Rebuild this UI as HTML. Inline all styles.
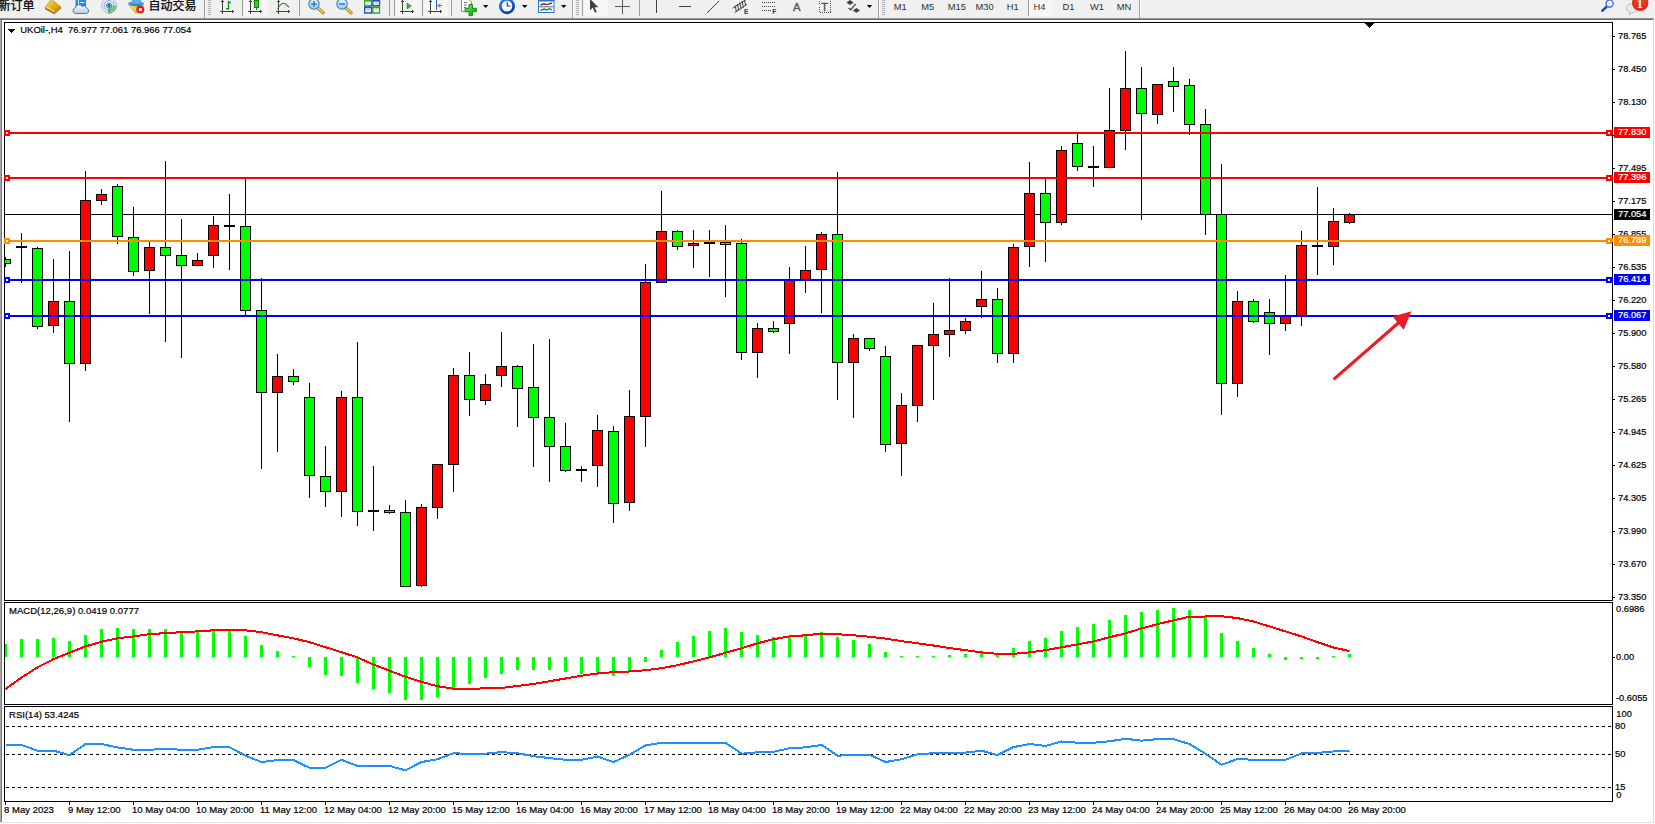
<!DOCTYPE html>
<html><head><meta charset="utf-8"><title>UKOil H4</title>
<style>
html,body{margin:0;padding:0;background:#fff;}
body{width:1655px;height:824px;position:relative;overflow:hidden;font-family:"Liberation Sans","Noto Sans CJK SC",sans-serif;font-size:11px;}
.t{position:absolute;white-space:nowrap;line-height:12px;font-size:9.55px;-webkit-text-stroke:0.2px currentColor;}
#lft{position:absolute;left:0;top:19px;width:2px;height:803px;background:linear-gradient(90deg,#a8a8a8 0,#a8a8a8 50%,#787878 50%,#787878 100%);}
#bot{position:absolute;left:0px;top:822px;width:1654px;height:1px;background:#e0e0e0;}
#rgt{position:absolute;left:1653px;top:19px;width:1px;height:804px;background:#dcdcdc;}
.cj{position:absolute;font-size:12px;line-height:12px;top:0px;color:#000;white-space:nowrap;-webkit-text-stroke:0.25px #000;}
</style></head><body>
<div id="lft"></div><div id="bot"></div><div id="rgt"></div>
<svg width="1655" height="20" viewBox="0 0 1655 20" style="position:absolute;left:0;top:0;overflow:hidden"><defs><linearGradient id="gold" x1="0" y1="0" x2="1" y2="1"><stop offset="0" stop-color="#fbe27a"/><stop offset=".5" stop-color="#e8b020"/><stop offset="1" stop-color="#b87808"/></linearGradient><linearGradient id="cloud" x1="0" y1="0" x2="0" y2="1"><stop offset="0" stop-color="#ffffff"/><stop offset="1" stop-color="#b8c8e8"/></linearGradient><linearGradient id="hat" x1="0" y1="0" x2="0" y2="1"><stop offset="0" stop-color="#58b8e8"/><stop offset="1" stop-color="#2a78c0"/></linearGradient><linearGradient id="face" x1="0" y1="0" x2="1" y2="1"><stop offset="0" stop-color="#ffe870"/><stop offset="1" stop-color="#e8a818"/></linearGradient><radialGradient id="badge" cx=".5" cy=".3" r=".8"><stop offset="0" stop-color="#e85030"/><stop offset="1" stop-color="#d02010"/></radialGradient><linearGradient id="lens" x1="0" y1="0" x2="0" y2="1"><stop offset="0" stop-color="#e8f4ff"/><stop offset="1" stop-color="#9cc8f0"/></linearGradient><pattern id="chk" width="2" height="2" patternUnits="userSpaceOnUse"><rect width="2" height="2" fill="#f0f0f0"/><rect width="1" height="1" fill="#fff"/><rect x="1" y="1" width="1" height="1" fill="#fff"/></pattern><linearGradient id="plus" x1="0" y1="0" x2="1" y2="1"><stop offset="0" stop-color="#70f070"/><stop offset="1" stop-color="#08a008"/></linearGradient><linearGradient id="clk" x1="0" y1="0" x2="0.6" y2="1"><stop offset="0" stop-color="#2a8af0"/><stop offset="1" stop-color="#0a3a9a"/></linearGradient></defs><rect x="0" y="0" width="1655" height="17" fill="#f0f0f0"/><rect x="0" y="17" width="1654" height="1" fill="#eeeeee"/><rect x="0" y="18" width="1654" height="1" fill="#959595"/><rect x="0" y="19" width="1653" height="1" fill="#696969"/><rect x="244" y="0" width="24" height="16" fill="url(#chk)"/><rect x="396" y="0" width="24" height="16" fill="url(#chk)"/><rect x="424" y="0" width="24" height="16" fill="url(#chk)"/><rect x="584" y="0" width="24" height="16" fill="url(#chk)"/><rect x="1029" y="0" width="24" height="16" fill="url(#chk)"/><rect x="204" y="0" width="1" height="18" fill="#a0a0a0"/><rect x="242" y="0" width="1" height="16" fill="#a0a0a0"/><rect x="299" y="0" width="1" height="16" fill="#a0a0a0"/><rect x="389" y="0" width="1" height="16" fill="#a0a0a0"/><rect x="394" y="0" width="1" height="16" fill="#a0a0a0"/><rect x="422" y="0" width="1" height="16" fill="#a0a0a0"/><rect x="451" y="0" width="1" height="16" fill="#a0a0a0"/><rect x="572" y="0" width="1" height="18" fill="#a0a0a0"/><rect x="582" y="0" width="1" height="16" fill="#a0a0a0"/><rect x="639" y="0" width="1" height="16" fill="#a0a0a0"/><rect x="878" y="0" width="1" height="18" fill="#a0a0a0"/><rect x="1028" y="0" width="1" height="16" fill="#a0a0a0"/><rect x="1139" y="0" width="1" height="18" fill="#a0a0a0"/><rect x="573" y="0" width="1" height="16" fill="#ffffff"/><rect x="879" y="0" width="1" height="16" fill="#ffffff"/><rect x="1140" y="0" width="1" height="16" fill="#ffffff"/><rect x="208" y="0" width="3" height="1" fill="#b0b0b0"/><rect x="208" y="2" width="3" height="1" fill="#b0b0b0"/><rect x="208" y="4" width="3" height="1" fill="#b0b0b0"/><rect x="208" y="6" width="3" height="1" fill="#b0b0b0"/><rect x="208" y="8" width="3" height="1" fill="#b0b0b0"/><rect x="208" y="10" width="3" height="1" fill="#b0b0b0"/><rect x="208" y="12" width="3" height="1" fill="#b0b0b0"/><rect x="208" y="14" width="3" height="1" fill="#b0b0b0"/><rect x="576" y="0" width="3" height="1" fill="#b0b0b0"/><rect x="576" y="2" width="3" height="1" fill="#b0b0b0"/><rect x="576" y="4" width="3" height="1" fill="#b0b0b0"/><rect x="576" y="6" width="3" height="1" fill="#b0b0b0"/><rect x="576" y="8" width="3" height="1" fill="#b0b0b0"/><rect x="576" y="10" width="3" height="1" fill="#b0b0b0"/><rect x="576" y="12" width="3" height="1" fill="#b0b0b0"/><rect x="576" y="14" width="3" height="1" fill="#b0b0b0"/><rect x="882" y="0" width="3" height="1" fill="#b0b0b0"/><rect x="882" y="2" width="3" height="1" fill="#b0b0b0"/><rect x="882" y="4" width="3" height="1" fill="#b0b0b0"/><rect x="882" y="6" width="3" height="1" fill="#b0b0b0"/><rect x="882" y="8" width="3" height="1" fill="#b0b0b0"/><rect x="882" y="10" width="3" height="1" fill="#b0b0b0"/><rect x="882" y="12" width="3" height="1" fill="#b0b0b0"/><rect x="882" y="14" width="3" height="1" fill="#b0b0b0"/><polygon points="45,7.6 54.4,12.6 61,7 61,8.4 54.2,14.2 45,9.2" fill="#a87008"/><polygon points="51.3,-0.8 61,7 54.4,12.6 45,7.6" fill="url(#gold)" stroke="#b88010" stroke-width="0.6"/><line x1="46.8" y1="7.2" x2="54.6" y2="11.4" stroke="#fbe890" stroke-width="1"/><rect x="75.5" y="-1" width="10.5" height="8" fill="#1e8ce8"/><rect x="78" y="0" width="1" height="6" fill="#d8ecff"/><rect x="80" y="2" width="4.5" height="1" fill="#d8ecff"/><path d="M75,13.5 a3,3 0 0 1 0.5,-5.8 a3.6,3.6 0 0 1 6.6,-1.2 a3,3 0 0 1 4.6,1.6 a2.8,2.8 0 0 1 -0.2,5.4 z" fill="url(#cloud)" stroke="#4a6ea8" stroke-width="0.9"/><circle cx="109" cy="5.6" r="2.6" fill="none" stroke="#3a6ad8" stroke-opacity="0.9" stroke-width="1"/><circle cx="109" cy="5.6" r="5" fill="none" stroke="#3a6ad8" stroke-opacity="0.6" stroke-width="1"/><circle cx="109" cy="5.6" r="7.4" fill="none" stroke="#3a6ad8" stroke-opacity="0.4" stroke-width="1"/><path d="M109,5.6 L117,5.6 A8,8 0 0 1 109,13.6 z" fill="#48a848" fill-opacity=".55"/><circle cx="109" cy="5.4" r="1.6" fill="#2858d0"/><rect x="108.5" y="6" width="1.2" height="7.6" fill="#18b018"/><polygon points="128.3,4.5 143.8,4.5 136,13.6" fill="url(#face)" stroke="#c89010" stroke-width=".6"/><ellipse cx="136" cy="3.6" rx="7.8" ry="2.6" fill="url(#hat)"/><ellipse cx="136.5" cy="0.5" rx="4.6" ry="3" fill="#58b0e0"/><circle cx="140.3" cy="9.6" r="4" fill="#e02010"/><rect x="138.8" y="8.1" width="3" height="3" fill="#fff"/><rect x="222" y="0" width="1" height="14" fill="#404040"/><rect x="220" y="11" width="14" height="1" fill="#404040"/><rect x="221" y="1" width="3" height="1" fill="#404040"/><rect x="232" y="10" width="1" height="3" fill="#404040"/><path d="M226,8.6 h2.5 M228.5,9.8 v-8.8 M228.5,2.5 h2.4" fill="none" stroke="#108a10" stroke-width="1.3"/><rect x="250" y="0" width="1" height="14" fill="#404040"/><rect x="248" y="11" width="14" height="1" fill="#404040"/><rect x="249" y="1" width="3" height="1" fill="#404040"/><rect x="260" y="10" width="1" height="3" fill="#404040"/><rect x="254.5" y="0.5" width="4" height="7" fill="#30d030" stroke="#108010" stroke-width="1"/><rect x="256" y="8" width="1" height="2" fill="#108010"/><rect x="278" y="0" width="1" height="14" fill="#404040"/><rect x="276" y="11" width="14" height="1" fill="#404040"/><rect x="277" y="1" width="3" height="1" fill="#404040"/><rect x="288" y="10" width="1" height="3" fill="#404040"/><path d="M277.5,8.7 Q281,3.2 283.5,3.3 Q286,3.6 289,7.4" fill="none" stroke="#189018" stroke-width="1.1"/><line x1="317.8" y1="8" x2="323.2" y2="12.8" stroke="#b08810" stroke-width="3.2" stroke-linecap="round"/><line x1="318.2" y1="8.3" x2="323" y2="12.6" stroke="#f0d860" stroke-width="1.4" stroke-linecap="round"/><circle cx="314" cy="4" r="5.2" fill="url(#lens)" stroke="#3a80c8" stroke-width="1.1"/><rect x="311" y="3.3" width="6" height="1.5" fill="#3a78b8"/><rect x="313.25" y="1" width="1.5" height="6" fill="#3a78b8"/><line x1="345.8" y1="8" x2="351.2" y2="12.8" stroke="#b08810" stroke-width="3.2" stroke-linecap="round"/><line x1="346.2" y1="8.3" x2="351" y2="12.6" stroke="#f0d860" stroke-width="1.4" stroke-linecap="round"/><circle cx="342" cy="4" r="5.2" fill="url(#lens)" stroke="#3a80c8" stroke-width="1.1"/><rect x="339" y="3.3" width="6" height="1.5" fill="#3a78b8"/><rect x="364" y="-0.5" width="8.2" height="6.8" fill="#3aa028"/><rect x="365.2" y="1.5" width="5.799999999999999" height="3.4" rx=".8" fill="#f4f8ff"/><rect x="366.2" y="2.5" width="3.799999999999999" height="1" fill="#a8e090"/><rect x="372.2" y="-0.5" width="8" height="6.8" fill="#2450c0"/><rect x="373.4" y="1.5" width="5.6" height="3.4" rx=".8" fill="#f4f8ff"/><rect x="374.4" y="2.5" width="3.5999999999999996" height="1" fill="#98b0f0"/><rect x="364" y="6.3" width="8.2" height="7.4" fill="#2450c0"/><rect x="365.2" y="8.3" width="5.799999999999999" height="4.0" rx=".8" fill="#f4f8ff"/><rect x="366.2" y="9.3" width="3.799999999999999" height="1" fill="#98b0f0"/><rect x="372.2" y="6.3" width="8" height="7.4" fill="#3aa028"/><rect x="373.4" y="8.3" width="5.6" height="4.0" rx=".8" fill="#f4f8ff"/><rect x="374.4" y="9.3" width="3.5999999999999996" height="1" fill="#a8e090"/><rect x="402" y="0" width="1" height="14" fill="#404040"/><rect x="400" y="11" width="14" height="1" fill="#404040"/><rect x="401" y="1" width="3" height="1" fill="#404040"/><rect x="412" y="10" width="1" height="3" fill="#404040"/><polygon points="407,3 411.3,6 407,9" fill="#28c028" stroke="#108010" stroke-width=".6"/><rect x="430" y="0" width="1" height="14" fill="#404040"/><rect x="428" y="11" width="14" height="1" fill="#404040"/><rect x="429" y="1" width="3" height="1" fill="#404040"/><rect x="440" y="10" width="1" height="3" fill="#404040"/><rect x="436" y="0" width="1" height="10" fill="#2060c0"/><path d="M442,5.6 h-4 m2,-2 l-2,2 l2,2" stroke="#d04010" stroke-width="1" fill="none"/><path d="M461.5,-1 h7 l3,3 v9.5 h-10 z" fill="#fafafa" stroke="#909090" stroke-width="1"/><path d="M464,2.5 h3 M464,5 h2.5 M464,7.5 h2" stroke="#606050" stroke-width=".9" fill="none"/><path d="M469,4.4 h3.4 v3.9 h3.9 v3.4 h-3.9 v3.9 h-3.4 v-3.9 h-3.9 v-3.4 h3.9 z" fill="url(#plus)" stroke="#0a800a" stroke-width=".9"/><polygon points="483,5 488.4,5 485.7,8" fill="#000"/><circle cx="507" cy="6.1" r="6.7" fill="#fbfcff" stroke="url(#clk)" stroke-width="2.7"/><path d="M507.3,2.2 v3.6 l2.8,0.4" fill="none" stroke="#303030" stroke-width="1.1"/><path d="M507,1.4 v.8 M507,10 v.8 M502.4,6.1 h.8 M510.8,6.1 h.8" stroke="#9098a8" stroke-width=".8"/><polygon points="522,5 527.4,5 524.7,8" fill="#000"/><rect x="538.5" y="-1" width="15.5" height="13.5" fill="#fff" stroke="#3070c8" stroke-width="1"/><rect x="538.5" y="-1" width="15.5" height="2.5" fill="#3070c8"/><rect x="539" y="6.3" width="14.5" height="1" fill="#3070c8"/><polyline points="540.5,5 544,3.8 547,4.6 552,3" fill="none" stroke="#982008" stroke-width="1.4"/><polyline points="540.5,10.5 544,9 547,10 549.5,8.6 552,10" fill="none" stroke="#189018" stroke-width="1.4"/><polygon points="561,5 566.4,5 563.7,8" fill="#000"/><path d="M590,-1 L590,10.2 L592.8,7.8 L595,12.8 L596.8,12 L594.6,7.2 L598.3,7.2 Z" fill="#404040"/><rect x="622" y="-1" width="1" height="15" fill="#585858"/><rect x="615" y="6" width="15" height="1" fill="#585858"/><rect x="656" y="0" width="1" height="13" fill="#404040"/><rect x="679" y="6" width="12" height="1" fill="#404040"/><line x1="707" y1="13" x2="719" y2="1" stroke="#404040" stroke-width="1"/><g stroke="#404040" stroke-width="1" fill="none"><line x1="732.7" y1="8.2" x2="745.8" y2="-0.2"/><line x1="734.7" y1="12.6" x2="746.8" y2="4.4"/><line x1="735" y1="5.5" x2="736.6" y2="12"/><line x1="737.3" y1="4" x2="738.9" y2="10.5"/><line x1="739.6" y1="2.5" x2="741.2" y2="9"/><line x1="741.9" y1="1" x2="743.5" y2="7.5"/><line x1="744.2" y1="-0.5" x2="745.8" y2="6"/></g><text x="744" y="14" font-family="Liberation Sans,sans-serif" font-size="6.5" font-weight="bold" fill="#303030">E</text><line x1="762" y1="2.5" x2="775" y2="2.5" stroke="#404040" stroke-width="1" stroke-dasharray="1,1"/><line x1="762" y1="6.5" x2="775" y2="6.5" stroke="#404040" stroke-width="1" stroke-dasharray="1,1"/><line x1="762" y1="10.5" x2="771" y2="10.5" stroke="#404040" stroke-width="1" stroke-dasharray="1,1"/><text x="772.3" y="14.3" font-family="Liberation Sans,sans-serif" font-size="6.5" font-weight="bold" fill="#303030">F</text><text x="793" y="10.6" font-family="Liberation Sans,sans-serif" font-size="11.4" fill="#585858" stroke="#585858" stroke-width=".35">A</text><rect x="819.5" y="-0.5" width="11" height="13" fill="none" stroke="#505050" stroke-width="1" stroke-dasharray="1,1" shape-rendering="crispEdges"/><text x="821.2" y="10.6" font-family="Liberation Sans,sans-serif" font-size="11" fill="#505050" stroke="#505050" stroke-width=".4">T</text><polygon points="850,0 853.6,2.6 850,5 846.4,2.6" fill="#404040"/><polygon points="856.4,8 860,10.4 856.4,12.8 852.8,10.4" fill="#404040"/><polyline points="848.6,8 850.7,9.8 855.6,3.8" fill="none" stroke="#404040" stroke-width="1.3"/><polygon points="866.8,5 872.1999999999999,5 869.5,8" fill="#000"/><line x1="1606.3" y1="7" x2="1602.2" y2="10.8" stroke="#1848c8" stroke-width="2.4" stroke-linecap="round"/><circle cx="1609.6" cy="3.6" r="3.6" fill="#f4f4ff" stroke="#2858e0" stroke-width="1.2"/><path d="M1626.5,8.2 a5.2,4.4 0 1 1 5.6,4.4 l-2.6,2.2 l0.2,-2.4 a5.2,4.4 0 0 1 -3.2,-4.2 z" fill="#e8e8f0" stroke="#b0b0b0" stroke-width=".8"/><circle cx="1640.2" cy="2.9" r="8.2" fill="url(#badge)"/><text x="1639.8" y="8" text-anchor="middle" font-family="Liberation Serif,serif" font-size="12" font-weight="bold" fill="#fff">1</text><text x="893.7" y="10" font-family="Liberation Sans,sans-serif" font-size="9.4" fill="#303030">M1</text><text x="921.3" y="10" font-family="Liberation Sans,sans-serif" font-size="9.4" fill="#303030">M5</text><text x="947.7" y="10" font-family="Liberation Sans,sans-serif" font-size="9.4" fill="#303030">M15</text><text x="975.5" y="10" font-family="Liberation Sans,sans-serif" font-size="9.4" fill="#303030">M30</text><text x="1006.7" y="10" font-family="Liberation Sans,sans-serif" font-size="9.4" fill="#303030">H1</text><text x="1033.6" y="10" font-family="Liberation Sans,sans-serif" font-size="9.4" fill="#303030">H4</text><text x="1062.5" y="10" font-family="Liberation Sans,sans-serif" font-size="9.4" fill="#303030">D1</text><text x="1090" y="10" font-family="Liberation Sans,sans-serif" font-size="9.4" fill="#303030">W1</text><text x="1116.7" y="10" font-family="Liberation Sans,sans-serif" font-size="9.4" fill="#303030">MN</text></svg><div class="cj" style="left:-1.5px">新订单</div><div class="cj" style="left:148.5px">自动交易</div>
<svg width="1655" height="824" viewBox="0 0 1655 824" style="position:absolute;left:0;top:0" shape-rendering="crispEdges"><defs><clipPath id="cp"><rect x="5" y="23" width="1607" height="577"/></clipPath></defs><rect x="4" y="22" width="1609" height="1" fill="#000"/><rect x="4" y="22" width="1" height="579" fill="#000"/><rect x="4" y="600" width="1609" height="1" fill="#000"/><rect x="1612" y="22" width="1" height="579" fill="#000"/><rect x="4" y="602" width="1609" height="1" fill="#000"/><rect x="4" y="602" width="1" height="103" fill="#000"/><rect x="4" y="704" width="1609" height="1" fill="#000"/><rect x="1612" y="602" width="1" height="103" fill="#000"/><rect x="4" y="706" width="1609" height="1" fill="#000"/><rect x="4" y="706" width="1" height="96" fill="#000"/><rect x="4" y="801" width="1609" height="1" fill="#000"/><rect x="1612" y="706" width="1" height="96" fill="#000"/><rect x="5" y="214" width="1607" height="1" fill="#000"/><g clip-path="url(#cp)"><rect x="5" y="257" width="1" height="10" fill="#000"/><rect x="0" y="259" width="11" height="5" fill="#000"/><rect x="1" y="260" width="9" height="3" fill="#00ff00"/><rect x="21" y="233" width="1" height="50" fill="#000"/><rect x="16" y="246" width="11" height="2" fill="#000"/><rect x="37" y="247" width="1" height="82" fill="#000"/><rect x="32" y="248" width="11" height="79" fill="#000"/><rect x="33" y="249" width="9" height="77" fill="#00ff00"/><rect x="53" y="259" width="1" height="74" fill="#000"/><rect x="48" y="301" width="11" height="25" fill="#000"/><rect x="49" y="302" width="9" height="23" fill="#ff0000"/><rect x="69" y="251" width="1" height="171" fill="#000"/><rect x="64" y="301" width="11" height="63" fill="#000"/><rect x="65" y="302" width="9" height="61" fill="#00ff00"/><rect x="85" y="171" width="1" height="200" fill="#000"/><rect x="80" y="200" width="11" height="164" fill="#000"/><rect x="81" y="201" width="9" height="162" fill="#ff0000"/><rect x="101" y="189" width="1" height="16" fill="#000"/><rect x="96" y="194" width="11" height="7" fill="#000"/><rect x="97" y="195" width="9" height="5" fill="#ff0000"/><rect x="117" y="184" width="1" height="60" fill="#000"/><rect x="112" y="186" width="11" height="51" fill="#000"/><rect x="113" y="187" width="9" height="49" fill="#00ff00"/><rect x="133" y="207" width="1" height="69" fill="#000"/><rect x="128" y="237" width="11" height="35" fill="#000"/><rect x="129" y="238" width="9" height="33" fill="#00ff00"/><rect x="149" y="242" width="1" height="72" fill="#000"/><rect x="144" y="247" width="11" height="24" fill="#000"/><rect x="145" y="248" width="9" height="22" fill="#ff0000"/><rect x="165" y="161" width="1" height="181" fill="#000"/><rect x="160" y="247" width="11" height="9" fill="#000"/><rect x="161" y="248" width="9" height="7" fill="#00ff00"/><rect x="181" y="219" width="1" height="139" fill="#000"/><rect x="176" y="255" width="11" height="11" fill="#000"/><rect x="177" y="256" width="9" height="9" fill="#00ff00"/><rect x="197" y="253" width="1" height="13" fill="#000"/><rect x="192" y="260" width="11" height="6" fill="#000"/><rect x="193" y="261" width="9" height="4" fill="#ff0000"/><rect x="213" y="216" width="1" height="52" fill="#000"/><rect x="208" y="225" width="11" height="31" fill="#000"/><rect x="209" y="226" width="9" height="29" fill="#ff0000"/><rect x="229" y="194" width="1" height="76" fill="#000"/><rect x="224" y="225" width="11" height="2" fill="#000"/><rect x="245" y="178" width="1" height="137" fill="#000"/><rect x="240" y="226" width="11" height="85" fill="#000"/><rect x="241" y="227" width="9" height="83" fill="#00ff00"/><rect x="261" y="278" width="1" height="191" fill="#000"/><rect x="256" y="310" width="11" height="83" fill="#000"/><rect x="257" y="311" width="9" height="81" fill="#00ff00"/><rect x="277" y="354" width="1" height="98" fill="#000"/><rect x="272" y="376" width="11" height="17" fill="#000"/><rect x="273" y="377" width="9" height="15" fill="#ff0000"/><rect x="293" y="369" width="1" height="16" fill="#000"/><rect x="288" y="376" width="11" height="6" fill="#000"/><rect x="289" y="377" width="9" height="4" fill="#00ff00"/><rect x="309" y="383" width="1" height="115" fill="#000"/><rect x="304" y="397" width="11" height="79" fill="#000"/><rect x="305" y="398" width="9" height="77" fill="#00ff00"/><rect x="325" y="446" width="1" height="61" fill="#000"/><rect x="320" y="476" width="11" height="16" fill="#000"/><rect x="321" y="477" width="9" height="14" fill="#00ff00"/><rect x="341" y="391" width="1" height="126" fill="#000"/><rect x="336" y="397" width="11" height="95" fill="#000"/><rect x="337" y="398" width="9" height="93" fill="#ff0000"/><rect x="357" y="342" width="1" height="184" fill="#000"/><rect x="352" y="397" width="11" height="115" fill="#000"/><rect x="353" y="398" width="9" height="113" fill="#00ff00"/><rect x="373" y="466" width="1" height="65" fill="#000"/><rect x="368" y="510" width="11" height="2" fill="#000"/><rect x="389" y="505" width="1" height="9" fill="#000"/><rect x="384" y="510" width="11" height="3" fill="#000"/><rect x="385" y="511" width="9" height="1" fill="#00ff00"/><rect x="405" y="500" width="1" height="87" fill="#000"/><rect x="400" y="512" width="11" height="75" fill="#000"/><rect x="401" y="513" width="9" height="73" fill="#00ff00"/><rect x="421" y="504" width="1" height="83" fill="#000"/><rect x="416" y="507" width="11" height="79" fill="#000"/><rect x="417" y="508" width="9" height="77" fill="#ff0000"/><rect x="437" y="464" width="1" height="55" fill="#000"/><rect x="432" y="464" width="11" height="44" fill="#000"/><rect x="433" y="465" width="9" height="42" fill="#ff0000"/><rect x="453" y="368" width="1" height="124" fill="#000"/><rect x="448" y="375" width="11" height="90" fill="#000"/><rect x="449" y="376" width="9" height="88" fill="#ff0000"/><rect x="469" y="352" width="1" height="64" fill="#000"/><rect x="464" y="375" width="11" height="25" fill="#000"/><rect x="465" y="376" width="9" height="23" fill="#00ff00"/><rect x="485" y="374" width="1" height="31" fill="#000"/><rect x="480" y="384" width="11" height="17" fill="#000"/><rect x="481" y="385" width="9" height="15" fill="#ff0000"/><rect x="501" y="332" width="1" height="55" fill="#000"/><rect x="496" y="366" width="11" height="10" fill="#000"/><rect x="497" y="367" width="9" height="8" fill="#ff0000"/><rect x="517" y="365" width="1" height="62" fill="#000"/><rect x="512" y="366" width="11" height="23" fill="#000"/><rect x="513" y="367" width="9" height="21" fill="#00ff00"/><rect x="533" y="344" width="1" height="123" fill="#000"/><rect x="528" y="387" width="11" height="31" fill="#000"/><rect x="529" y="388" width="9" height="29" fill="#00ff00"/><rect x="549" y="339" width="1" height="143" fill="#000"/><rect x="544" y="417" width="11" height="30" fill="#000"/><rect x="545" y="418" width="9" height="28" fill="#00ff00"/><rect x="565" y="423" width="1" height="49" fill="#000"/><rect x="560" y="446" width="11" height="25" fill="#000"/><rect x="561" y="447" width="9" height="23" fill="#00ff00"/><rect x="581" y="466" width="1" height="16" fill="#000"/><rect x="576" y="469" width="11" height="2" fill="#000"/><rect x="597" y="415" width="1" height="72" fill="#000"/><rect x="592" y="430" width="11" height="36" fill="#000"/><rect x="593" y="431" width="9" height="34" fill="#ff0000"/><rect x="613" y="426" width="1" height="97" fill="#000"/><rect x="608" y="431" width="11" height="73" fill="#000"/><rect x="609" y="432" width="9" height="71" fill="#00ff00"/><rect x="629" y="390" width="1" height="121" fill="#000"/><rect x="624" y="416" width="11" height="87" fill="#000"/><rect x="625" y="417" width="9" height="85" fill="#ff0000"/><rect x="645" y="264" width="1" height="183" fill="#000"/><rect x="640" y="282" width="11" height="135" fill="#000"/><rect x="641" y="283" width="9" height="133" fill="#ff0000"/><rect x="661" y="191" width="1" height="92" fill="#000"/><rect x="656" y="231" width="11" height="52" fill="#000"/><rect x="657" y="232" width="9" height="50" fill="#ff0000"/><rect x="677" y="230" width="1" height="20" fill="#000"/><rect x="672" y="231" width="11" height="16" fill="#000"/><rect x="673" y="232" width="9" height="14" fill="#00ff00"/><rect x="693" y="230" width="1" height="38" fill="#000"/><rect x="688" y="243" width="11" height="3" fill="#000"/><rect x="689" y="244" width="9" height="1" fill="#ff0000"/><rect x="709" y="230" width="1" height="47" fill="#000"/><rect x="704" y="242" width="11" height="2" fill="#000"/><rect x="725" y="225" width="1" height="72" fill="#000"/><rect x="720" y="242" width="11" height="3" fill="#000"/><rect x="721" y="243" width="9" height="1" fill="#00ff00"/><rect x="741" y="239" width="1" height="121" fill="#000"/><rect x="736" y="243" width="11" height="110" fill="#000"/><rect x="737" y="244" width="9" height="108" fill="#00ff00"/><rect x="757" y="323" width="1" height="55" fill="#000"/><rect x="752" y="328" width="11" height="25" fill="#000"/><rect x="753" y="329" width="9" height="23" fill="#ff0000"/><rect x="773" y="321" width="1" height="12" fill="#000"/><rect x="768" y="328" width="11" height="4" fill="#000"/><rect x="769" y="329" width="9" height="2" fill="#00ff00"/><rect x="789" y="267" width="1" height="87" fill="#000"/><rect x="784" y="280" width="11" height="44" fill="#000"/><rect x="785" y="281" width="9" height="42" fill="#ff0000"/><rect x="805" y="246" width="1" height="47" fill="#000"/><rect x="800" y="270" width="11" height="11" fill="#000"/><rect x="801" y="271" width="9" height="9" fill="#ff0000"/><rect x="821" y="232" width="1" height="81" fill="#000"/><rect x="816" y="234" width="11" height="36" fill="#000"/><rect x="817" y="235" width="9" height="34" fill="#ff0000"/><rect x="837" y="172" width="1" height="228" fill="#000"/><rect x="832" y="234" width="11" height="129" fill="#000"/><rect x="833" y="235" width="9" height="127" fill="#00ff00"/><rect x="853" y="334" width="1" height="84" fill="#000"/><rect x="848" y="338" width="11" height="25" fill="#000"/><rect x="849" y="339" width="9" height="23" fill="#ff0000"/><rect x="869" y="338" width="1" height="13" fill="#000"/><rect x="864" y="338" width="11" height="11" fill="#000"/><rect x="865" y="339" width="9" height="9" fill="#00ff00"/><rect x="885" y="346" width="1" height="106" fill="#000"/><rect x="880" y="356" width="11" height="89" fill="#000"/><rect x="881" y="357" width="9" height="87" fill="#00ff00"/><rect x="901" y="393" width="1" height="83" fill="#000"/><rect x="896" y="405" width="11" height="39" fill="#000"/><rect x="897" y="406" width="9" height="37" fill="#ff0000"/><rect x="917" y="345" width="1" height="77" fill="#000"/><rect x="912" y="345" width="11" height="61" fill="#000"/><rect x="913" y="346" width="9" height="59" fill="#ff0000"/><rect x="933" y="303" width="1" height="97" fill="#000"/><rect x="928" y="334" width="11" height="12" fill="#000"/><rect x="929" y="335" width="9" height="10" fill="#ff0000"/><rect x="949" y="278" width="1" height="79" fill="#000"/><rect x="944" y="330" width="11" height="5" fill="#000"/><rect x="945" y="331" width="9" height="3" fill="#ff0000"/><rect x="965" y="318" width="1" height="16" fill="#000"/><rect x="960" y="321" width="11" height="10" fill="#000"/><rect x="961" y="322" width="9" height="8" fill="#ff0000"/><rect x="981" y="271" width="1" height="47" fill="#000"/><rect x="976" y="299" width="11" height="8" fill="#000"/><rect x="977" y="300" width="9" height="6" fill="#ff0000"/><rect x="997" y="288" width="1" height="75" fill="#000"/><rect x="992" y="299" width="11" height="55" fill="#000"/><rect x="993" y="300" width="9" height="53" fill="#00ff00"/><rect x="1013" y="244" width="1" height="119" fill="#000"/><rect x="1008" y="247" width="11" height="107" fill="#000"/><rect x="1009" y="248" width="9" height="105" fill="#ff0000"/><rect x="1029" y="162" width="1" height="105" fill="#000"/><rect x="1024" y="193" width="11" height="54" fill="#000"/><rect x="1025" y="194" width="9" height="52" fill="#ff0000"/><rect x="1045" y="179" width="1" height="83" fill="#000"/><rect x="1040" y="193" width="11" height="30" fill="#000"/><rect x="1041" y="194" width="9" height="28" fill="#00ff00"/><rect x="1061" y="146" width="1" height="79" fill="#000"/><rect x="1056" y="150" width="11" height="73" fill="#000"/><rect x="1057" y="151" width="9" height="71" fill="#ff0000"/><rect x="1077" y="134" width="1" height="37" fill="#000"/><rect x="1072" y="143" width="11" height="24" fill="#000"/><rect x="1073" y="144" width="9" height="22" fill="#00ff00"/><rect x="1093" y="146" width="1" height="41" fill="#000"/><rect x="1088" y="166" width="11" height="2" fill="#000"/><rect x="1109" y="88" width="1" height="80" fill="#000"/><rect x="1104" y="130" width="11" height="38" fill="#000"/><rect x="1105" y="131" width="9" height="36" fill="#ff0000"/><rect x="1125" y="51" width="1" height="99" fill="#000"/><rect x="1120" y="88" width="11" height="43" fill="#000"/><rect x="1121" y="89" width="9" height="41" fill="#ff0000"/><rect x="1141" y="67" width="1" height="153" fill="#000"/><rect x="1136" y="88" width="11" height="26" fill="#000"/><rect x="1137" y="89" width="9" height="24" fill="#00ff00"/><rect x="1157" y="84" width="1" height="40" fill="#000"/><rect x="1152" y="84" width="11" height="31" fill="#000"/><rect x="1153" y="85" width="9" height="29" fill="#ff0000"/><rect x="1173" y="67" width="1" height="45" fill="#000"/><rect x="1168" y="81" width="11" height="6" fill="#000"/><rect x="1169" y="82" width="9" height="4" fill="#00ff00"/><rect x="1189" y="79" width="1" height="56" fill="#000"/><rect x="1184" y="85" width="11" height="40" fill="#000"/><rect x="1185" y="86" width="9" height="38" fill="#00ff00"/><rect x="1205" y="109" width="1" height="126" fill="#000"/><rect x="1200" y="124" width="11" height="91" fill="#000"/><rect x="1201" y="125" width="9" height="89" fill="#00ff00"/><rect x="1221" y="164" width="1" height="251" fill="#000"/><rect x="1216" y="214" width="11" height="170" fill="#000"/><rect x="1217" y="215" width="9" height="168" fill="#00ff00"/><rect x="1237" y="291" width="1" height="106" fill="#000"/><rect x="1232" y="301" width="11" height="83" fill="#000"/><rect x="1233" y="302" width="9" height="81" fill="#ff0000"/><rect x="1253" y="299" width="1" height="24" fill="#000"/><rect x="1248" y="301" width="11" height="21" fill="#000"/><rect x="1249" y="302" width="9" height="19" fill="#00ff00"/><rect x="1269" y="299" width="1" height="56" fill="#000"/><rect x="1264" y="312" width="11" height="12" fill="#000"/><rect x="1265" y="313" width="9" height="10" fill="#00ff00"/><rect x="1285" y="275" width="1" height="56" fill="#000"/><rect x="1280" y="316" width="11" height="8" fill="#000"/><rect x="1281" y="317" width="9" height="6" fill="#ff0000"/><rect x="1301" y="231" width="1" height="95" fill="#000"/><rect x="1296" y="245" width="11" height="72" fill="#000"/><rect x="1297" y="246" width="9" height="70" fill="#ff0000"/><rect x="1317" y="187" width="1" height="88" fill="#000"/><rect x="1312" y="245" width="11" height="2" fill="#000"/><rect x="1333" y="208" width="1" height="57" fill="#000"/><rect x="1328" y="221" width="11" height="26" fill="#000"/><rect x="1329" y="222" width="9" height="24" fill="#ff0000"/><rect x="1349" y="213" width="1" height="11" fill="#000"/><rect x="1344" y="214" width="11" height="9" fill="#000"/><rect x="1345" y="215" width="9" height="7" fill="#ff0000"/></g><rect x="5" y="132" width="1608" height="2" fill="#ff0000"/><rect x="4" y="130" width="6" height="6" fill="#ff0000"/><rect x="6" y="132" width="2" height="2" fill="#fff"/><rect x="1606" y="130" width="6" height="6" fill="#ff0000"/><rect x="1608" y="132" width="2" height="2" fill="#fff"/><rect x="1612" y="130" width="1" height="4" fill="#ff0000"/><rect x="5" y="177" width="1608" height="2" fill="#ff0000"/><rect x="4" y="175" width="6" height="6" fill="#ff0000"/><rect x="6" y="177" width="2" height="2" fill="#fff"/><rect x="1606" y="175" width="6" height="6" fill="#ff0000"/><rect x="1608" y="177" width="2" height="2" fill="#fff"/><rect x="1612" y="175" width="1" height="4" fill="#ff0000"/><rect x="5" y="240" width="1608" height="2" fill="#ff8c00"/><rect x="4" y="238" width="6" height="6" fill="#ff8c00"/><rect x="6" y="240" width="2" height="2" fill="#fff"/><rect x="1606" y="238" width="6" height="6" fill="#ff8c00"/><rect x="1608" y="240" width="2" height="2" fill="#fff"/><rect x="1612" y="238" width="1" height="4" fill="#ff8c00"/><rect x="5" y="279" width="1608" height="2" fill="#0000ff"/><rect x="4" y="277" width="6" height="6" fill="#0000ff"/><rect x="6" y="279" width="2" height="2" fill="#fff"/><rect x="1606" y="277" width="6" height="6" fill="#0000ff"/><rect x="1608" y="279" width="2" height="2" fill="#fff"/><rect x="1612" y="277" width="1" height="4" fill="#0000ff"/><rect x="5" y="315" width="1608" height="2" fill="#0000ff"/><rect x="4" y="313" width="6" height="6" fill="#0000ff"/><rect x="6" y="315" width="2" height="2" fill="#fff"/><rect x="1606" y="313" width="6" height="6" fill="#0000ff"/><rect x="1608" y="315" width="2" height="2" fill="#fff"/><rect x="1612" y="313" width="1" height="4" fill="#0000ff"/><rect x="1613" y="36" width="2" height="1" fill="#000"/><rect x="1613" y="69" width="2" height="1" fill="#000"/><rect x="1613" y="102" width="2" height="1" fill="#000"/><rect x="1613" y="135" width="2" height="1" fill="#000"/><rect x="1613" y="168" width="2" height="1" fill="#000"/><rect x="1613" y="201" width="2" height="1" fill="#000"/><rect x="1613" y="234" width="2" height="1" fill="#000"/><rect x="1613" y="267" width="2" height="1" fill="#000"/><rect x="1613" y="300" width="2" height="1" fill="#000"/><rect x="1613" y="333" width="2" height="1" fill="#000"/><rect x="1613" y="366" width="2" height="1" fill="#000"/><rect x="1613" y="399" width="2" height="1" fill="#000"/><rect x="1613" y="432" width="2" height="1" fill="#000"/><rect x="1613" y="465" width="2" height="1" fill="#000"/><rect x="1613" y="498" width="2" height="1" fill="#000"/><rect x="1613" y="531" width="2" height="1" fill="#000"/><rect x="1613" y="564" width="2" height="1" fill="#000"/><rect x="1613" y="597" width="2" height="1" fill="#000"/><rect x="1613" y="657" width="2" height="1" fill="#000"/><rect x="5" y="644" width="2" height="13" fill="#00ff00"/><rect x="20" y="639" width="3" height="18" fill="#00ff00"/><rect x="36" y="639" width="3" height="18" fill="#00ff00"/><rect x="52" y="638" width="3" height="19" fill="#00ff00"/><rect x="68" y="641" width="3" height="16" fill="#00ff00"/><rect x="84" y="635" width="3" height="22" fill="#00ff00"/><rect x="100" y="629" width="3" height="28" fill="#00ff00"/><rect x="116" y="628" width="3" height="29" fill="#00ff00"/><rect x="132" y="629" width="3" height="28" fill="#00ff00"/><rect x="148" y="629" width="3" height="28" fill="#00ff00"/><rect x="164" y="629" width="3" height="28" fill="#00ff00"/><rect x="180" y="631" width="3" height="26" fill="#00ff00"/><rect x="196" y="631" width="3" height="26" fill="#00ff00"/><rect x="212" y="630" width="3" height="27" fill="#00ff00"/><rect x="228" y="630" width="3" height="27" fill="#00ff00"/><rect x="244" y="636" width="3" height="21" fill="#00ff00"/><rect x="260" y="645" width="3" height="12" fill="#00ff00"/><rect x="276" y="651" width="3" height="6" fill="#00ff00"/><rect x="292" y="656" width="3" height="1" fill="#00ff00"/><rect x="308" y="657" width="3" height="10" fill="#00ff00"/><rect x="324" y="657" width="3" height="18" fill="#00ff00"/><rect x="340" y="657" width="3" height="19" fill="#00ff00"/><rect x="356" y="657" width="3" height="26" fill="#00ff00"/><rect x="372" y="657" width="3" height="32" fill="#00ff00"/><rect x="388" y="657" width="3" height="36" fill="#00ff00"/><rect x="404" y="657" width="3" height="43" fill="#00ff00"/><rect x="420" y="657" width="3" height="43" fill="#00ff00"/><rect x="436" y="657" width="3" height="40" fill="#00ff00"/><rect x="452" y="657" width="3" height="31" fill="#00ff00"/><rect x="468" y="657" width="3" height="27" fill="#00ff00"/><rect x="484" y="657" width="3" height="21" fill="#00ff00"/><rect x="500" y="657" width="3" height="17" fill="#00ff00"/><rect x="516" y="657" width="3" height="13" fill="#00ff00"/><rect x="532" y="657" width="3" height="13" fill="#00ff00"/><rect x="548" y="657" width="3" height="13" fill="#00ff00"/><rect x="564" y="657" width="3" height="15" fill="#00ff00"/><rect x="580" y="657" width="3" height="17" fill="#00ff00"/><rect x="596" y="657" width="3" height="15" fill="#00ff00"/><rect x="612" y="657" width="3" height="19" fill="#00ff00"/><rect x="628" y="657" width="3" height="14" fill="#00ff00"/><rect x="644" y="657" width="3" height="5" fill="#00ff00"/><rect x="660" y="650" width="3" height="7" fill="#00ff00"/><rect x="676" y="642" width="3" height="15" fill="#00ff00"/><rect x="692" y="636" width="3" height="21" fill="#00ff00"/><rect x="708" y="631" width="3" height="26" fill="#00ff00"/><rect x="724" y="628" width="3" height="29" fill="#00ff00"/><rect x="740" y="632" width="3" height="25" fill="#00ff00"/><rect x="756" y="635" width="3" height="22" fill="#00ff00"/><rect x="772" y="637" width="3" height="20" fill="#00ff00"/><rect x="788" y="636" width="3" height="21" fill="#00ff00"/><rect x="804" y="634" width="3" height="23" fill="#00ff00"/><rect x="820" y="632" width="3" height="25" fill="#00ff00"/><rect x="836" y="637" width="3" height="20" fill="#00ff00"/><rect x="852" y="640" width="3" height="17" fill="#00ff00"/><rect x="868" y="644" width="3" height="13" fill="#00ff00"/><rect x="884" y="652" width="3" height="5" fill="#00ff00"/><rect x="900" y="656" width="3" height="1" fill="#00ff00"/><rect x="916" y="656" width="3" height="1" fill="#00ff00"/><rect x="932" y="656" width="3" height="1" fill="#00ff00"/><rect x="948" y="655" width="3" height="2" fill="#00ff00"/><rect x="964" y="654" width="3" height="3" fill="#00ff00"/><rect x="980" y="653" width="3" height="4" fill="#00ff00"/><rect x="996" y="654" width="3" height="3" fill="#00ff00"/><rect x="1012" y="648" width="3" height="9" fill="#00ff00"/><rect x="1028" y="641" width="3" height="16" fill="#00ff00"/><rect x="1044" y="638" width="3" height="19" fill="#00ff00"/><rect x="1060" y="631" width="3" height="26" fill="#00ff00"/><rect x="1076" y="627" width="3" height="30" fill="#00ff00"/><rect x="1092" y="624" width="3" height="33" fill="#00ff00"/><rect x="1108" y="620" width="3" height="37" fill="#00ff00"/><rect x="1124" y="615" width="3" height="42" fill="#00ff00"/><rect x="1140" y="612" width="3" height="45" fill="#00ff00"/><rect x="1156" y="610" width="3" height="47" fill="#00ff00"/><rect x="1172" y="608" width="3" height="49" fill="#00ff00"/><rect x="1188" y="610" width="3" height="47" fill="#00ff00"/><rect x="1204" y="617" width="3" height="40" fill="#00ff00"/><rect x="1220" y="633" width="3" height="24" fill="#00ff00"/><rect x="1236" y="641" width="3" height="16" fill="#00ff00"/><rect x="1252" y="648" width="3" height="9" fill="#00ff00"/><rect x="1268" y="654" width="3" height="3" fill="#00ff00"/><rect x="1284" y="657" width="3" height="3" fill="#00ff00"/><rect x="1300" y="657" width="3" height="2" fill="#00ff00"/><rect x="1316" y="657" width="3" height="2" fill="#00ff00"/><rect x="1332" y="656" width="3" height="1" fill="#00ff00"/><rect x="1348" y="654" width="3" height="3" fill="#00ff00"/><line x1="6" y1="726.5" x2="1612" y2="726.5" stroke="#000" stroke-width="1" stroke-dasharray="3,3"/><line x1="6" y1="754.5" x2="1612" y2="754.5" stroke="#000" stroke-width="1" stroke-dasharray="3,3"/><line x1="6" y1="787.5" x2="1612" y2="787.5" stroke="#000" stroke-width="1" stroke-dasharray="3,3"/><rect x="5" y="802" width="1" height="3" fill="#000"/><rect x="69" y="802" width="1" height="3" fill="#000"/><rect x="133" y="802" width="1" height="3" fill="#000"/><rect x="197" y="802" width="1" height="3" fill="#000"/><rect x="261" y="802" width="1" height="3" fill="#000"/><rect x="325" y="802" width="1" height="3" fill="#000"/><rect x="389" y="802" width="1" height="3" fill="#000"/><rect x="453" y="802" width="1" height="3" fill="#000"/><rect x="517" y="802" width="1" height="3" fill="#000"/><rect x="581" y="802" width="1" height="3" fill="#000"/><rect x="645" y="802" width="1" height="3" fill="#000"/><rect x="709" y="802" width="1" height="3" fill="#000"/><rect x="773" y="802" width="1" height="3" fill="#000"/><rect x="837" y="802" width="1" height="3" fill="#000"/><rect x="901" y="802" width="1" height="3" fill="#000"/><rect x="965" y="802" width="1" height="3" fill="#000"/><rect x="1029" y="802" width="1" height="3" fill="#000"/><rect x="1093" y="802" width="1" height="3" fill="#000"/><rect x="1157" y="802" width="1" height="3" fill="#000"/><rect x="1221" y="802" width="1" height="3" fill="#000"/><rect x="1285" y="802" width="1" height="3" fill="#000"/><rect x="1349" y="802" width="1" height="3" fill="#000"/></svg><svg width="1655" height="824" viewBox="0 0 1655 824" style="position:absolute;left:0;top:0"><polyline points="5.5,689 21.5,677.6 37.5,667.4 53.5,659.1 69.5,652.7 85.5,646.4 101.5,641.7 117.5,638.3 133.5,636.4 149.5,634.2 165.5,633.1 181.5,632.2 197.5,631.4 213.5,630.3 229.5,629.8 245.5,630.3 261.5,632.2 277.5,635.3 293.5,638.3 309.5,642.2 325.5,647.2 341.5,652.2 357.5,657.4 373.5,664.6 389.5,670.7 405.5,676.8 421.5,681.8 437.5,686.2 453.5,688.7 469.5,688.7 485.5,688.4 501.5,687.9 517.5,685.9 533.5,684 549.5,681.2 565.5,678.5 581.5,675.7 597.5,673.5 613.5,672.1 629.5,671.5 645.5,670.2 661.5,668.2 677.5,665.2 693.5,661.3 709.5,657.4 725.5,652.7 741.5,648.3 757.5,643.3 773.5,639.2 789.5,636.4 805.5,635.3 821.5,633.6 837.5,634.2 853.5,635.3 869.5,636.7 885.5,638.6 901.5,641.1 917.5,643.3 933.5,645.5 949.5,648 965.5,650.2 981.5,652.4 997.5,653.8 1013.5,653.8 1029.5,652.4 1045.5,650.2 1061.5,647.2 1077.5,644.4 1093.5,641.4 1109.5,637.2 1125.5,633.4 1141.5,628.4 1157.5,624.2 1173.5,620.3 1189.5,616.8 1205.5,616.5 1221.5,616.2 1237.5,618.1 1253.5,621.5 1269.5,626.4 1285.5,631.4 1301.5,636.4 1317.5,642.2 1333.5,647.5 1349.5,651.1" fill="none" stroke="#ff0000" stroke-width="2" stroke-linejoin="round" shape-rendering="crispEdges"/><polyline points="5.5,744.9 21.5,744.9 37.5,750.7 53.5,750.7 69.5,755.1 85.5,744 101.5,744 117.5,747.4 133.5,749.8 149.5,749.8 165.5,748.7 181.5,749.8 197.5,749.8 213.5,747.1 229.5,747.1 245.5,755.7 261.5,762 277.5,760.1 293.5,760.1 309.5,767.8 325.5,767.8 341.5,759.8 357.5,765.9 373.5,765.9 389.5,765.9 405.5,770.3 421.5,762 437.5,759.3 453.5,753.2 469.5,754 485.5,753.7 501.5,752.1 517.5,753.2 533.5,756.2 549.5,758.1 565.5,759.8 581.5,759.8 597.5,756.5 613.5,762 629.5,754.8 645.5,745.4 661.5,742.7 677.5,742.7 693.5,742.7 709.5,742.7 725.5,742.7 741.5,753.7 757.5,752.3 773.5,751.8 789.5,748.2 805.5,747.4 821.5,744.9 837.5,755.7 853.5,754.8 869.5,754.8 885.5,762 901.5,759.3 917.5,754.3 933.5,753.2 949.5,753.2 965.5,752.6 981.5,750.7 997.5,755.1 1013.5,747.1 1029.5,744 1045.5,746 1061.5,741.5 1077.5,742.7 1093.5,742.7 1109.5,741.3 1125.5,738.8 1141.5,740.7 1157.5,739.1 1173.5,739.1 1189.5,744 1205.5,753.7 1221.5,764.8 1237.5,759 1253.5,759.8 1269.5,759.8 1285.5,759.8 1301.5,753.4 1317.5,752.9 1333.5,751.5 1349.5,751" fill="none" stroke="#1e90ff" stroke-width="2" stroke-linejoin="round" shape-rendering="crispEdges"/><line x1="1333.7" y1="379.4" x2="1400" y2="321.5" stroke="#ed1c24" stroke-width="3.2"/><polygon points="1411.5,311.3 1392.6,316.6 1403.7,329.7" fill="#ed1c24"/><rect x="1365" y="23" width="9" height="1" fill="#000" shape-rendering="crispEdges"/><rect x="1366" y="24" width="7" height="1" fill="#000" shape-rendering="crispEdges"/><rect x="1367" y="25" width="5" height="1" fill="#000" shape-rendering="crispEdges"/><rect x="1368" y="26" width="3" height="1" fill="#000" shape-rendering="crispEdges"/><rect x="1369" y="27" width="1" height="1" fill="#000" shape-rendering="crispEdges"/><rect x="8" y="29" width="7" height="1" fill="#000" shape-rendering="crispEdges"/><rect x="9" y="30" width="5" height="1" fill="#000" shape-rendering="crispEdges"/><rect x="10" y="31" width="3" height="1" fill="#000" shape-rendering="crispEdges"/><rect x="11" y="32" width="1" height="1" fill="#000" shape-rendering="crispEdges"/></svg>
<div class="t" style="left:20.3px;top:23.7px;color:#000;font-size:9.45px">UKOil-,H4&nbsp; 76.977 77.061 76.966 77.054</div><div class="t" style="left:9px;top:605px;color:#000;">MACD(12,26,9) 0.0419 0.0777</div><div class="t" style="left:9px;top:709px;color:#000;">RSI(14) 53.4245</div><div class="t" style="left:1618px;top:30px;color:#000;font-size:9.3px">78.765</div><div class="t" style="left:1618px;top:63px;color:#000;font-size:9.3px">78.450</div><div class="t" style="left:1618px;top:96px;color:#000;font-size:9.3px">78.130</div><div class="t" style="left:1618px;top:129px;color:#000;font-size:9.3px">77.810</div><div class="t" style="left:1618px;top:162px;color:#000;font-size:9.3px">77.495</div><div class="t" style="left:1618px;top:195px;color:#000;font-size:9.3px">77.175</div><div class="t" style="left:1618px;top:228px;color:#000;font-size:9.3px">76.855</div><div class="t" style="left:1618px;top:261px;color:#000;font-size:9.3px">76.535</div><div class="t" style="left:1618px;top:294px;color:#000;font-size:9.3px">76.220</div><div class="t" style="left:1618px;top:327px;color:#000;font-size:9.3px">75.900</div><div class="t" style="left:1618px;top:360px;color:#000;font-size:9.3px">75.580</div><div class="t" style="left:1618px;top:393px;color:#000;font-size:9.3px">75.265</div><div class="t" style="left:1618px;top:426px;color:#000;font-size:9.3px">74.945</div><div class="t" style="left:1618px;top:459px;color:#000;font-size:9.3px">74.625</div><div class="t" style="left:1618px;top:492px;color:#000;font-size:9.3px">74.305</div><div class="t" style="left:1618px;top:525px;color:#000;font-size:9.3px">73.990</div><div class="t" style="left:1618px;top:558px;color:#000;font-size:9.3px">73.670</div><div class="t" style="left:1618px;top:591px;color:#000;font-size:9.3px">73.350</div><div class="t" style="left:1616px;top:603px;color:#000;font-size:9.3px">0.6986</div><div class="t" style="left:1616px;top:651px;color:#000;font-size:9.3px">0.00</div><div class="t" style="left:1616px;top:691.5px;color:#000;font-size:9.3px">-0.6055</div><div class="t" style="left:1616.3px;top:707.5px;color:#000;font-size:9.3px">100</div><div class="t" style="left:1615px;top:720px;color:#000;font-size:9.3px">80</div><div class="t" style="left:1615px;top:748px;color:#000;font-size:9.3px">50</div><div class="t" style="left:1615px;top:781px;color:#000;font-size:9.3px">15</div><div class="t" style="left:1616.3px;top:788.8px;color:#000;font-size:9.3px">0</div><div class="t" style="left:4px;top:804px;color:#000;">8 May 2023</div><div class="t" style="left:68px;top:804px;color:#000;">9 May 12:00</div><div class="t" style="left:132px;top:804px;color:#000;">10 May 04:00</div><div class="t" style="left:196px;top:804px;color:#000;">10 May 20:00</div><div class="t" style="left:260px;top:804px;color:#000;">11 May 12:00</div><div class="t" style="left:324px;top:804px;color:#000;">12 May 04:00</div><div class="t" style="left:388px;top:804px;color:#000;">12 May 20:00</div><div class="t" style="left:452px;top:804px;color:#000;">15 May 12:00</div><div class="t" style="left:516px;top:804px;color:#000;">16 May 04:00</div><div class="t" style="left:580px;top:804px;color:#000;">16 May 20:00</div><div class="t" style="left:644px;top:804px;color:#000;">17 May 12:00</div><div class="t" style="left:708px;top:804px;color:#000;">18 May 04:00</div><div class="t" style="left:772px;top:804px;color:#000;">18 May 20:00</div><div class="t" style="left:836px;top:804px;color:#000;">19 May 12:00</div><div class="t" style="left:900px;top:804px;color:#000;">22 May 04:00</div><div class="t" style="left:964px;top:804px;color:#000;">22 May 20:00</div><div class="t" style="left:1028px;top:804px;color:#000;">23 May 12:00</div><div class="t" style="left:1092px;top:804px;color:#000;">24 May 04:00</div><div class="t" style="left:1156px;top:804px;color:#000;">24 May 20:00</div><div class="t" style="left:1220px;top:804px;color:#000;">25 May 12:00</div><div class="t" style="left:1284px;top:804px;color:#000;">26 May 04:00</div><div class="t" style="left:1348px;top:804px;color:#000;">26 May 20:00</div><div class="t" style="left:1614px;top:127px;width:36px;height:11px;line-height:10px;background:#ff0000;color:#fff;text-indent:4px;font-size:9.3px">77.830</div><div class="t" style="left:1614px;top:172px;width:36px;height:11px;line-height:10px;background:#ff0000;color:#fff;text-indent:4px;font-size:9.3px">77.396</div><div class="t" style="left:1614px;top:209px;width:36px;height:11px;line-height:10px;background:#000;color:#fff;text-indent:4px;font-size:9.3px">77.054</div><div class="t" style="left:1614px;top:235px;width:36px;height:11px;line-height:10px;background:#ff8c00;color:#fff;text-indent:4px;font-size:9.3px">76.789</div><div class="t" style="left:1614px;top:274px;width:36px;height:11px;line-height:10px;background:#0000ff;color:#fff;text-indent:4px;font-size:9.3px">76.414</div><div class="t" style="left:1614px;top:310px;width:36px;height:11px;line-height:10px;background:#0000ff;color:#fff;text-indent:4px;font-size:9.3px">76.067</div>
</body></html>
